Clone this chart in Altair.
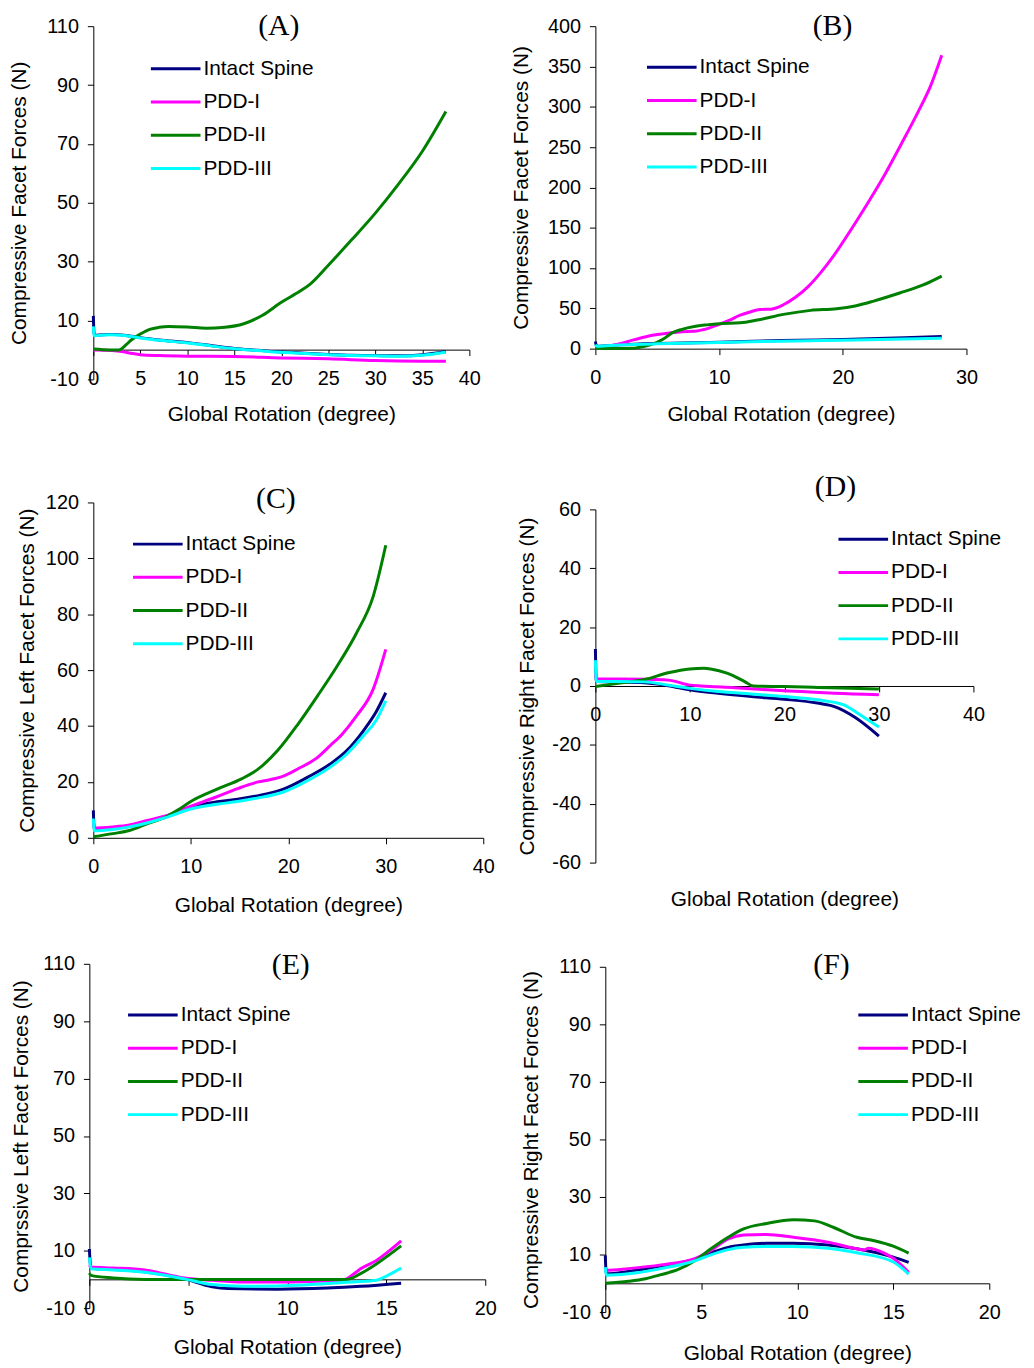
import altair as alt
import pandas as pd

SERIES = ["Intact Spine", "PDD-I", "PDD-II", "PDD-III"]
COLORS = ["#000080", "#FF00FF", "#008000", "#00FFFF"]

# ---------------- Panel A ----------------
a_intact_x = [0, 0.1, 1, 2, 3, 5, 7, 10, 12.5, 15, 17.5, 20, 22.5, 25, 27.5, 30, 32.5, 35, 37.5]
a_intact_y = [11.6, 5.0, 5.2, 5.3, 5.1, 4.2, 3.4, 2.5, 1.5, 0.5, -0.1, -0.7, -1.1, -1.5, -1.8, -1.9, -2.0, -1.6, -0.5]
a_pdd1_x = [0, 1, 2, 3, 4, 5, 7, 10, 15, 20, 25, 30, 35, 37.5]
a_pdd1_y = [0, -0.1, -0.2, -0.5, -1.1, -1.6, -1.9, -2.1, -2.2, -2.7, -3.0, -3.6, -3.8, -3.8]
a_pdd2_x = [0, 1, 2, 2.7, 3.5, 4, 5, 6, 7, 8, 10, 12, 14, 16, 18, 20, 22, 23, 25, 27.5, 30, 32.5, 35, 37.5]
a_pdd2_y = [0.3, 0.1, 0.0, 0.0, 1.8, 3.3, 5.4, 7.0, 7.7, 8.0, 7.8, 7.4, 7.7, 8.9, 11.8, 16.2, 20.0, 22.2, 28.8, 37.5, 46.5, 56.5, 67.5, 81.0]
a_pdd3_x = [0, 0.1, 1, 2, 3, 5, 7, 10, 12.5, 15, 17.5, 20, 22.5, 25, 27.5, 30, 32.5, 35, 37.5]
a_pdd3_y = [8.0, 4.8, 5.1, 5.2, 5.0, 4.1, 3.3, 2.4, 1.4, 0.4, -0.2, -0.8, -1.2, -1.6, -1.9, -2.0, -2.1, -1.8, -0.8]

# ---------------- Panel B ----------------
b_intact_x = [0, 0.1, 2, 5, 10, 15, 20, 25, 28]
b_intact_y = [9, 3, 4.8, 6.5, 8, 10, 11.5, 13.5, 15]
b_pdd1_x = [0, 1, 2, 3, 4, 5, 6, 7, 8, 8.7, 9.9, 10.8, 11.7, 12.5, 13.3, 14.2, 15.2, 16.2, 17.2, 18.2, 19.3, 20.6, 22, 23.4, 24.7, 26.1, 27.1, 28]
b_pdd1_y = [2, 3, 6, 10.5, 14.5, 17.5, 19.5, 21, 21.5, 23.5, 29.5, 35, 41.5, 45.5, 48.5, 49, 54.5, 64, 77, 94, 116, 146, 180, 216, 253, 294, 326, 364]
b_pdd2_x = [0, 1, 2, 3, 3.5, 4.5, 5.5, 6.2, 7, 8, 9, 10, 11.7, 13.1, 15.2, 17.4, 19.5, 21, 22.5, 24.6, 26.5, 28]
b_pdd2_y = [0.5, 0.3, 0.3, 0.5, 1.5, 5, 12, 19.5, 24, 27.5, 29.5, 31, 32, 35.5, 42.5, 47.5, 49.5, 53, 59, 69, 79, 90]
b_pdd3_x = [0, 0.1, 2, 5, 10, 15, 20, 25, 28]
b_pdd3_y = [5, 3, 4.5, 6, 7.5, 9.3, 10.5, 12, 13]

# ---------------- Panel C ----------------
c_intact_x = [0, 0.1, 2, 3.7, 5.5, 7.4, 10, 12.7, 14.8, 16.8, 19.5, 22, 24.3, 26, 27.7, 29, 30]
c_intact_y = [9.8, 3.0, 3.4, 4.1, 5.4, 7.5, 11.0, 12.9, 13.8, 15.0, 17.4, 21.7, 26.4, 31.2, 38.3, 45.0, 51.9]
c_pdd1_x = [0, 0.1, 2, 3.7, 5.5, 7.4, 10, 12.6, 14.8, 16.9, 18.1, 19.5, 21, 22.9, 24.3, 25.5, 27, 28.7, 30]
c_pdd1_y = [6.0, 3.5, 3.9, 4.6, 6.2, 7.8, 11.3, 14.6, 17.6, 20.0, 20.8, 22.1, 24.7, 28.5, 33.0, 37.0, 43.6, 53.1, 67.4]
c_pdd2_x = [0, 2, 3.7, 5.5, 7.4, 8.7, 10, 12.7, 15.2, 16.8, 18.9, 21, 23, 25, 27, 28.7, 30]
c_pdd2_y = [0.4, 1.5, 2.6, 5.0, 7.4, 10.0, 13.0, 17.4, 21.1, 24.3, 31.2, 40.7, 50.8, 61.4, 73.3, 86.3, 104.7]
c_pdd3_x = [0, 0.1, 2, 3.7, 5.5, 7.4, 10, 12.7, 14.8, 16.8, 19.5, 22, 24.3, 26, 27.7, 29, 30]
c_pdd3_y = [6.9, 2.5, 3.0, 3.9, 5.3, 7.2, 10.3, 12.0, 13.0, 14.2, 16.4, 20.5, 25.3, 30.0, 36.5, 42.0, 49.0]

# ---------------- Panel D ----------------
d_intact_x = [0, 0.1, 2.4, 5.2, 7.7, 10, 13, 16.5, 20, 23.5, 25.3, 27.5, 30]
d_intact_y = [12.6, 1.5, 1.4, 1.1, 0.1, -1.3, -2.5, -3.6, -4.5, -5.8, -7.0, -10.7, -17.0]
d_pdd1_x = [0, 0.1, 2.4, 5.2, 7.7, 10, 11.2, 14.7, 18.2, 21.8, 25.3, 30]
d_pdd1_y = [4.0, 2.4, 2.4, 2.3, 2.0, 0.3, 0.0, -0.6, -1.3, -1.9, -2.5, -3.0]
d_pdd2_x = [0, 2.4, 5.2, 7.7, 10, 11.5, 12.2, 14, 15.8, 16.7, 20, 23.5, 27, 30]
d_pdd2_y = [-0.2, 0.9, 2.2, 4.5, 5.8, 6.0, 5.8, 4.3, 1.5, 0.0, -0.2, -0.5, -0.8, -1.0]
d_pdd3_x = [0, 0.1, 2.4, 5.2, 7.7, 10, 13, 16.5, 20, 23.5, 26.3, 28, 30]
d_pdd3_y = [8.8, 1.5, 1.5, 1.4, 0.3, -0.8, -1.9, -2.7, -3.6, -4.7, -6.4, -9.8, -13.9]

# ---------------- Panel E ----------------
e_intact_x = [0, 0.08, 1.2, 2.8, 4.8, 6.2, 7, 9.5, 12, 13.7, 15.75]
e_intact_y = [10.6, 3.9, 3.5, 2.7, 0.2, -2.6, -3.2, -3.4, -3.0, -2.4, -1.3]
e_pdd1_x = [0, 0.08, 1.2, 2.8, 4.8, 6.2, 7.8, 9.5, 11.2, 12.8, 13.3, 13.7, 14.5, 15.75]
e_pdd1_y = [5.0, 4.3, 4.0, 3.3, 0.5, -0.3, -0.9, -0.9, -0.7, -0.3, 1.6, 3.7, 6.6, 13.4]
e_pdd2_x = [0, 0.08, 1.2, 2.8, 4.8, 8, 13, 13.7, 14.5, 15.75]
e_pdd2_y = [2.2, 1.4, 0.5, 0.0, 0.0, 0.0, 0.0, 2.0, 5.4, 11.7]
e_pdd3_x = [0, 0.08, 1.2, 2.8, 4.8, 6.2, 7.8, 9.5, 11.2, 12.8, 14.5, 14.7, 15.75]
e_pdd3_y = [7.7, 3.7, 3.3, 2.5, 0.2, -1.8, -2.4, -2.3, -1.8, -1.1, -0.3, 0.2, 4.0]

# ---------------- Panel F ----------------
f_intact_x = [0, 0.05, 1.2, 2.9, 4.7, 5.5, 6.4, 7.2, 8.4, 9.8, 11.6, 13.1, 15, 15.8]
f_intact_y = [9.7, 3.3, 4.1, 6.0, 8.5, 10.6, 12.5, 13.3, 13.9, 13.9, 13.3, 12.0, 9.1, 7.3]
f_pdd1_x = [0, 0.05, 1.2, 2.9, 4.7, 5.5, 6.4, 7.2, 8.4, 9.8, 11.6, 13.1, 13.5, 13.7, 14.5, 15, 15.8]
f_pdd1_y = [4.5, 4.5, 5.1, 6.4, 8.7, 11.4, 15.4, 16.8, 17.0, 16.0, 14.3, 12.0, 11.6, 12.2, 10.6, 8.7, 3.8]
f_pdd2_x = [0, 1.2, 2.1, 2.9, 3.8, 4.7, 5.5, 6.4, 7.2, 8.4, 9.8, 10.9, 11.9, 13.1, 14, 15, 15.8]
f_pdd2_y = [0.0, 0.7, 1.6, 3.0, 4.8, 8.0, 12.0, 16.0, 18.9, 20.8, 22.1, 21.7, 19.4, 16.0, 14.8, 12.9, 10.5]
f_pdd3_x = [0, 0.05, 1.2, 2.9, 4.7, 5.5, 6.4, 7.2, 8.4, 9.8, 11.6, 13.1, 15, 15.8]
f_pdd3_y = [5.6, 2.8, 3.3, 5.1, 7.9, 9.9, 11.7, 12.5, 12.8, 12.8, 12.2, 10.6, 7.4, 3.2]

# axis ticks
a_xticks = [0, 5, 10, 15, 20, 25, 30, 35, 40]
a_yticks = [-10, 10, 30, 50, 70, 90, 110]
b_xticks = [0, 10, 20, 30]
b_yticks = [0, 50, 100, 150, 200, 250, 300, 350, 400]
c_xticks = [0, 10, 20, 30, 40]
c_yticks = [0, 20, 40, 60, 80, 100, 120]
d_xticks = [0, 10, 20, 30, 40]
d_yticks = [-60, -40, -20, 0, 20, 40, 60]
e_xticks = [0, 5, 10, 15, 20]
e_yticks = [-10, 10, 30, 50, 70, 90, 110]
f_xticks = [0, 5, 10, 15, 20]
f_yticks = [-10, 10, 30, 50, 70, 90, 110]

XTITLE = "Global Rotation (degree)"

# layout (page pixel coordinates of the reference), converted to view coords below
W, H = 1026, 1356
M = 8  # page margin

panels = [
    dict(name="(A)", data=[(a_intact_x, a_intact_y), (a_pdd1_x, a_pdd1_y), (a_pdd2_x, a_pdd2_y), (a_pdd3_x, a_pdd3_y)],
         xdom=[0, 40], ydom=[-10, 110], xr=[94, 473], yr=[377, 21], y0=347,
         xt=a_xticks, yt=a_yticks, ytitle="Compressive Facet Forces (N)", ytx=-74, xty=65,
         leg=(152, 68), lab=(281, 24)),
    dict(name="(B)", data=[(b_intact_x, b_intact_y), (b_pdd1_x, b_pdd1_y), (b_pdd2_x, b_pdd2_y), (b_pdd3_x, b_pdd3_y)],
         xdom=[0, 30], ydom=[0, 400], xr=[600, 974], yr=[346, 21], y0=346,
         xt=b_xticks, yt=b_yticks, ytitle="Compressive Facet Forces (N)", ytx=-74, xty=66,
         leg=(652, 66.5), lab=(839, 24)),
    dict(name="(C)", data=[(c_intact_x, c_intact_y), (c_pdd1_x, c_pdd1_y), (c_pdd2_x, c_pdd2_y), (c_pdd3_x, c_pdd3_y)],
         xdom=[0, 40], ydom=[0, 120], xr=[94, 487], yr=[839, 501], y0=839,
         xt=c_xticks, yt=c_yticks, ytitle="Compressive Left Facet Forces (N)", ytx=-66, xty=68,
         leg=(134, 547), lab=(278, 501)),
    dict(name="(D)", data=[(d_intact_x, d_intact_y), (d_pdd1_x, d_pdd1_y), (d_pdd2_x, d_pdd2_y), (d_pdd3_x, d_pdd3_y)],
         xdom=[0, 40], ydom=[-60, 60], xr=[600, 981], yr=[864, 508], y0=686,
         xt=d_xticks, yt=d_yticks, ytitle="Compressive Right Facet Forces (N)", ytx=-68, xty=215,
         leg=(845, 542), lab=(842, 489)),
    dict(name="(E)", data=[(e_intact_x, e_intact_y), (e_pdd1_x, e_pdd1_y), (e_pdd2_x, e_pdd2_y), (e_pdd3_x, e_pdd3_y)],
         xdom=[0, 20], ydom=[-10, 110], xr=[90, 489], yr=[1313, 966], y0=1284,
         xt=e_xticks, yt=e_yticks, ytitle="Comprssive Left Facet Forces (N)", ytx=-68, xty=69,
         leg=(129, 1021.5), lab=(293, 970)),
    dict(name="(F)", data=[(f_intact_x, f_intact_y), (f_pdd1_x, f_pdd1_y), (f_pdd2_x, f_pdd2_y), (f_pdd3_x, f_pdd3_y)],
         xdom=[0, 20], ydom=[-10, 110], xr=[610, 997], yr=[1317, 969], y0=1288,
         xt=f_xticks, yt=f_yticks, ytitle="Compressive Right Facet Forces (N)", ytx=-74, xty=71,
         leg=(865, 1021.5), lab=(838, 970)),
]

LEG_SIZE = 23  # entry size = ceil(sqrt(400) + 3)
NEG_LABEL = "datum.value < 0 ? '-' + abs(datum.value) : '' + datum.value"


def build_panel(p):
    rows = []
    for s, (xs, ys) in zip(SERIES, p["data"]):
        for i, (xv, yv) in enumerate(zip(xs, ys)):
            rows.append({"x": xv, "y": yv, "series": s, "i": i})
    df = pd.DataFrame(rows)

    xscale = alt.Scale(domain=p["xdom"], range=[p["xr"][0] - M, p["xr"][1] - M], nice=False, zero=False)
    yscale = alt.Scale(domain=p["ydom"], range=[p["yr"][0] - M, p["yr"][1] - M], nice=False, zero=False)

    xaxis = alt.Axis(orient="bottom", offset=(p["y0"] - M) - H, values=p["xt"], title=XTITLE,
                     titleY=p["xty"], titleBaseline="middle", labelFlush=False, labelOverlap=False,
                     grid=False, tickSize=6, labelPadding=13, labelExpr=NEG_LABEL)
    yaxis = alt.Axis(orient="left", offset=-(p["xr"][0] - M), values=p["yt"], title=p["ytitle"],
                     titleX=p["ytx"], titleBaseline="middle", labelFlush=False, labelOverlap=False,
                     grid=False, tickSize=6, labelPadding=9, labelExpr=NEG_LABEL)

    lx, ly = p["leg"]
    legend = alt.Legend(orient="none", legendX=lx - M + 13.5, legendY=ly - M - LEG_SIZE / 2 - 4,
                        title=None, symbolType="M-2.5,0H2.5", symbolSize=400, symbolStrokeWidth=3,
                        symbolOffset=0, labelOffset=16.5, rowPadding=11.5, padding=0,
                        labelFontSize=21, labelFont="Liberation Sans", labelColor="black")

    lines = alt.Chart(df).mark_line(strokeWidth=3, interpolate="monotone").encode(
        x=alt.X("x:Q", scale=xscale, axis=xaxis),
        y=alt.Y("y:Q", scale=yscale, axis=yaxis),
        color=alt.Color("series:N", scale=alt.Scale(domain=SERIES, range=COLORS), legend=legend),
        order=alt.Order("i:Q"),
    )

    # panel letter: placed in page pixels via an identity scale over the whole view
    lab_df = pd.DataFrame({"px": [p["lab"][0] - M], "py": [p["lab"][1] - M - 3], "t": [p["name"]]})
    pxs = alt.Scale(domain=[0, W], range=[0, W], nice=False, zero=False)
    pys = alt.Scale(domain=[0, H], range=[0, H], nice=False, zero=False)
    label = alt.Chart(lab_df).mark_text(font="Liberation Serif", fontSize=30, align="center",
                                        baseline="middle", color="black").encode(
        x=alt.X("px:Q", scale=pxs, axis=None),
        y=alt.Y("py:Q", scale=pys, axis=None),
        text="t:N",
    )
    return [lines, label]


layers = []
for p in panels:
    layers.extend(build_panel(p))

chart = alt.layer(*layers).resolve_scale(
    x="independent", y="independent", color="independent"
).resolve_axis(
    x="independent", y="independent"
).resolve_legend(
    color="independent"
).properties(
    width=W, height=H, padding=0, autosize=alt.AutoSizeParams(type="none")
).configure_view(
    stroke="transparent"
).configure_axis(
    labelFont="Liberation Sans", titleFont="Liberation Sans", labelFontSize=20, titleFontSize=21,
    titleFontWeight="normal", labelColor="black", titleColor="black", domainColor="black",
    tickColor="black", domainWidth=1, tickWidth=1
)

chart.save("out.html", embed_options={"renderer": "svg", "actions": False})
